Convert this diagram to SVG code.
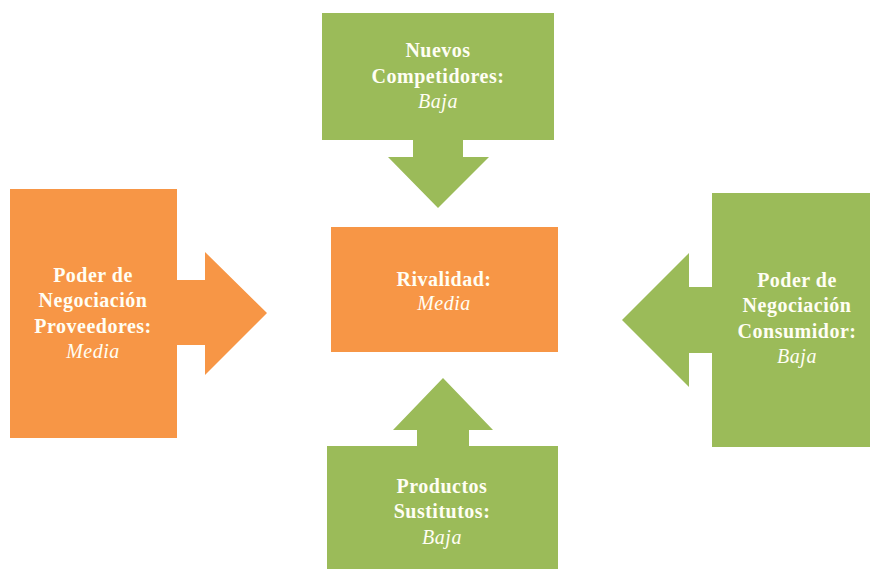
<svg xmlns="http://www.w3.org/2000/svg" width="870" height="569" viewBox="0 0 870 569">
  <style>
    .green { fill: #9BBB59; }
    .orange { fill: #F79646; }
    text { font-family: "Liberation Serif", "Times New Roman", serif; font-size: 20px; fill: #FFFEF4; text-anchor: middle; letter-spacing: 0.5px; }
    .b { font-weight: bold; }
    .i { font-style: italic; }
  </style>
  <rect width="870" height="569" fill="#FFFFFF"/>

  <!-- block arrows pointing toward the central node -->
  <g id="connectors">
    <polygon class="green" points="413,139 463,139 463,157 489,157 438,208 388,157 413,157"/>
    <polygon class="orange" points="176,280 205,280 205,252 267,313 205,375 205,345 176,345"/>
    <polygon class="green" points="713,287 689,287 689,253 622,320 689,387 689,353 713,353"/>
    <polygon class="green" points="417,447 469,447 469,430 493,430 443,378 393,430 417,430"/>
  </g>

  <g id="nuevos-competidores">
    <rect class="green" x="322" y="13" width="232" height="127"/>
    <text class="b" x="438" y="57">Nuevos</text>
    <text class="b" x="438" y="83">Competidores:</text>
    <text class="i" x="438" y="108">Baja</text>
  </g>

  <g id="poder-proveedores">
    <rect class="orange" x="10" y="189" width="167" height="249"/>
    <text class="b" x="93" y="282">Poder de</text>
    <text class="b" x="93" y="307">Negociación</text>
    <text class="b" x="93" y="333">Proveedores:</text>
    <text class="i" x="93" y="358">Media</text>
  </g>

  <g id="rivalidad">
    <rect class="orange" x="331" y="227" width="227" height="125"/>
    <text class="b" x="444" y="286">Rivalidad:</text>
    <text class="i" x="444" y="310">Media</text>
  </g>

  <g id="poder-consumidor">
    <rect class="green" x="712" y="193" width="158" height="254"/>
    <text class="b" x="797" y="287">Poder de</text>
    <text class="b" x="797" y="312">Negociación</text>
    <text class="b" x="797" y="338">Consumidor:</text>
    <text class="i" x="797" y="363">Baja</text>
  </g>

  <g id="productos-sustitutos">
    <rect class="green" x="327" y="446" width="231" height="123"/>
    <text class="b" x="442" y="493">Productos</text>
    <text class="b" x="442" y="518">Sustitutos:</text>
    <text class="i" x="442" y="544">Baja</text>
  </g>
</svg>
